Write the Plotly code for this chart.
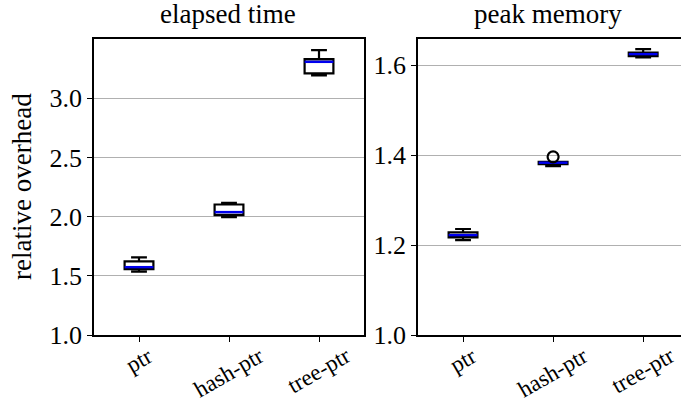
import plotly.graph_objects as go

categories = ["ptr", "hash-ptr", "tree-ptr"]

# elapsed time (relative overhead)
time_lower = [1.536, 1.996, 3.192]
time_q1 = [1.557, 2.013, 3.209]
time_median = [1.573, 2.038, 3.307]
time_q3 = [1.621, 2.102, 3.330]
time_upper = [1.655, 2.117, 3.406]

# peak memory (relative overhead)
mem_lower = [1.211, 1.3756, 1.617]
mem_q1 = [1.217, 1.380, 1.620]
mem_median = [1.222, 1.383, 1.6244]
mem_q3 = [1.228, 1.385, 1.628]
mem_upper = [1.2356, 1.385, 1.6356]
mem_outlier_x = [1]
mem_outlier_y = [1.396]

positions = [0, 1, 2]
BOX_W = 0.32
FONT = "Liberation Serif"

fig = go.Figure()


def add_panel(xa, ya, lower, q1, med, q3, upper):
    fig.add_trace(go.Box(
        x=positions, q1=q1, median=med, q3=q3, lowerfence=lower, upperfence=upper,
        width=BOX_W, whiskerwidth=0.55, fillcolor="white",
        line=dict(color="black", width=2.2), xaxis=xa, yaxis=ya,
        showlegend=False, hoverinfo="skip", boxpoints=False,
    ))
    for p, m in zip(positions, med):
        fig.add_trace(go.Scatter(
            x=[p - BOX_W / 2, p + BOX_W / 2], y=[m, m], mode="lines",
            line=dict(color="#0000ee", width=2.4), xaxis=xa, yaxis=ya,
            showlegend=False, hoverinfo="skip",
        ))


add_panel("x", "y", time_lower, time_q1, time_median, time_q3, time_upper)
add_panel("x2", "y2", mem_lower, mem_q1, mem_median, mem_q3, mem_upper)
fig.add_trace(go.Scatter(
    x=mem_outlier_x, y=mem_outlier_y, mode="markers",
    marker=dict(symbol="circle-open", size=11, color="black", line=dict(width=2.2)),
    xaxis="x2", yaxis="y2", showlegend=False, hoverinfo="skip",
))

axis_common = dict(showline=True, linecolor="black", linewidth=1.5, mirror=True,
                   ticks="outside", ticklen=5, tickwidth=1.3, tickcolor="black",
                   zeroline=False, automargin=False,
                   tickfont=dict(family=FONT, size=26, color="black"))

y_dom = [1 - 335 / 415, 1 - 39 / 415]
fig.update_layout(
    width=681, height=415, margin=dict(l=0, r=0, t=0, b=0, pad=0),
    paper_bgcolor="white", plot_bgcolor="white",
    xaxis=dict(domain=[94 / 681, 364 / 681], range=[-0.5, 2.5], tickvals=positions,
               showticklabels=False, showgrid=False, anchor="y", **axis_common),
    yaxis=dict(domain=y_dom, range=[1.0, 3.5], tickvals=[1.0, 1.5, 2.0, 2.5, 3.0],
               ticktext=["1.0", "1.5", "2.0", "2.5", "3.0"], showgrid=True,
               gridcolor="#b0b0b0", gridwidth=1, anchor="x", **axis_common),
    xaxis2=dict(domain=[418 / 681, 1.0], range=[-0.5, 2.42], tickvals=positions,
                showticklabels=False, showgrid=False, anchor="y2", **axis_common),
    yaxis2=dict(domain=y_dom, range=[1.0, 1.658], tickvals=[1.0, 1.2, 1.4, 1.6],
                ticktext=["1.0", "1.2", "1.4", "1.6"], showgrid=True,
                gridcolor="#b0b0b0", gridwidth=1, anchor="x2", **axis_common),
)

annotations = []
for xa in ["x", "x2"]:
    for p, c in zip(positions, categories):
        annotations.append(dict(
            x=p, xref=xa, y=y_dom[0] - 5 / 415, yref="paper", text=c, showarrow=False,
            textangle=-30, xanchor="center", yanchor="top",
            font=dict(family=FONT, size=23, color="black"),
        ))
annotations.append(dict(x=228 / 681, y=1 - 14 / 415, xref="paper", yref="paper",
                        text="elapsed time", showarrow=False, xanchor="center",
                        yanchor="middle", font=dict(family=FONT, size=27, color="black")))
annotations.append(dict(x=548 / 681, y=1 - 14 / 415, xref="paper", yref="paper",
                        text="peak memory", showarrow=False, xanchor="center",
                        yanchor="middle", font=dict(family=FONT, size=27, color="black")))
annotations.append(dict(x=22 / 681, y=(y_dom[0] + y_dom[1]) / 2, xref="paper", yref="paper",
                        text="relative overhead", showarrow=False, textangle=-90,
                        xanchor="center", yanchor="middle",
                        font=dict(family=FONT, size=27, color="black")))
fig.update_layout(annotations=annotations)

fig.write_html("out.html", config={"displayModeBar": False},
               post_script="document.body.style.margin='0';document.body.style.overflow='hidden';")
